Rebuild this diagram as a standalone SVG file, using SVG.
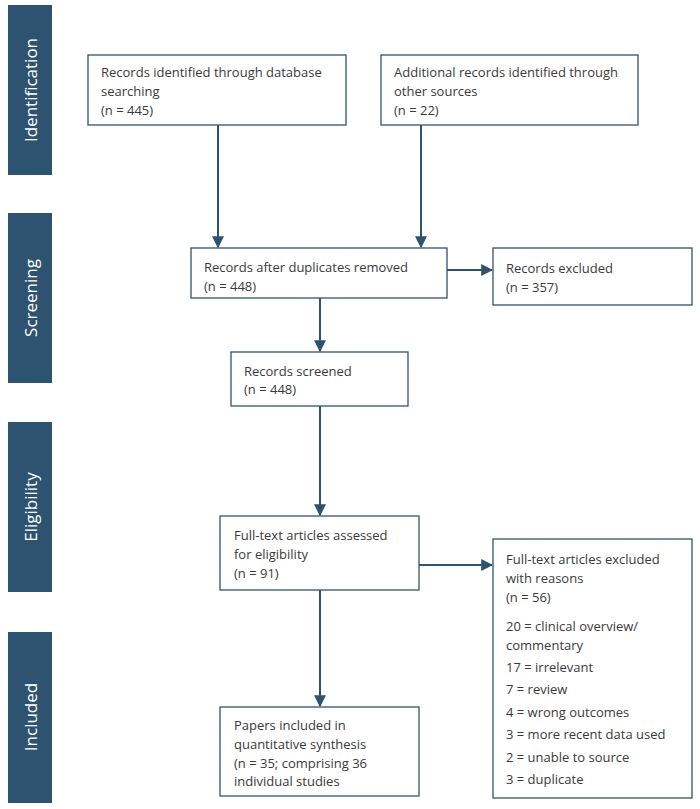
<svg xmlns="http://www.w3.org/2000/svg" width="700" height="809" viewBox="0 0 700 809">
<style>
.bar{fill:#2e5370}
.bt{fill:#fff;font-family:"Open Sans",sans-serif;font-size:17px;text-anchor:middle}
.box{fill:#fff;stroke:#2e5370;stroke-width:1.3}
.t{fill:#3a3a3a;font-family:"Open Sans",sans-serif;font-size:13px}
.c{stroke:#2e5370;stroke-width:2;fill:none;marker-end:url(#a)}
</style>
<defs><marker id="a" viewBox="0 0 10 10" refX="9" refY="5" markerWidth="6" markerHeight="6" orient="auto"><path d="M0,0L10,5L0,10z" fill="#2e5370"/></marker></defs>
<rect width="700" height="809" fill="#fff"/>
<g id="stage-identification"><rect class="bar" x="8" y="5" width="44" height="170"/><text class="bt" transform="translate(37,90) rotate(-90)">Identification</text></g>
<g id="stage-screening"><rect class="bar" x="8" y="213" width="44" height="170"/><text class="bt" transform="translate(37,298) rotate(-90)">Screening</text></g>
<g id="stage-eligibility"><rect class="bar" x="8" y="422" width="44" height="170"/><text class="bt" transform="translate(37,507) rotate(-90)">Eligibility</text></g>
<g id="stage-included"><rect class="bar" x="8" y="632" width="44" height="171"/><text class="bt" transform="translate(37,717) rotate(-90)">Included</text></g>
<g id="connectors">
<path class="c" d="M218,125V247"/>
<path class="c" d="M421,125V247"/>
<path class="c" d="M447,270H492"/>
<path class="c" d="M320,298V351"/>
<path class="c" d="M320,406V515"/>
<path class="c" d="M419,565H492"/>
<path class="c" d="M320,590V706"/>
</g>
<g id="db"><rect class="box" x="88" y="55" width="258" height="70"/><text class="t" x="101" y="77">Records identified through database</text><text class="t" x="101" y="96">searching</text><text class="t" x="101" y="115">(n = 445)</text></g>
<g id="other"><rect class="box" x="381" y="55" width="257" height="70"/><text class="t" x="394" y="77">Additional records identified through</text><text class="t" x="394" y="96">other sources</text><text class="t" x="394" y="115">(n = 22)</text></g>
<g id="dup"><rect class="box" x="191" y="248" width="256" height="50"/><text class="t" x="204" y="272">Records after duplicates removed</text><text class="t" x="204" y="291">(n = 448)</text></g>
<g id="excl"><rect class="box" x="493" y="248" width="199" height="57"/><text class="t" x="506" y="273">Records excluded</text><text class="t" x="506" y="292">(n = 357)</text></g>
<g id="screened"><rect class="box" x="231" y="352" width="177" height="54"/><text class="t" x="244" y="376">Records screened</text><text class="t" x="244" y="394">(n = 448)</text></g>
<g id="fulltext"><rect class="box" x="220" y="516" width="199" height="74"/><text class="t" x="234" y="540">Full-text articles assessed</text><text class="t" x="234" y="559">for eligibility</text><text class="t" x="234" y="578">(n = 91)</text></g>
<g id="ftexcl"><rect class="box" x="493" y="539" width="199" height="259"/>
<text class="t" x="506" y="564">Full-text articles excluded</text><text class="t" x="506" y="583">with reasons</text><text class="t" x="506" y="602">(n = 56)</text>
<text class="t" x="506" y="631">20 = clinical overview/</text><text class="t" x="506" y="650">commentary</text>
<text class="t" x="506" y="672">17 = irrelevant</text><text class="t" x="506" y="694">7 = review</text><text class="t" x="506" y="717">4 = wrong outcomes</text><text class="t" x="506" y="739">3 = more recent data used</text><text class="t" x="506" y="762">2 = unable to source</text><text class="t" x="506" y="784">3 = duplicate</text></g>
<g id="included"><rect class="box" x="220" y="707" width="199" height="89"/><text class="t" x="234" y="730">Papers included in</text><text class="t" x="234" y="749">quantitative synthesis</text><text class="t" x="234" y="768">(n = 35; comprising 36</text><text class="t" x="234" y="786">individual studies</text></g>
</svg>
